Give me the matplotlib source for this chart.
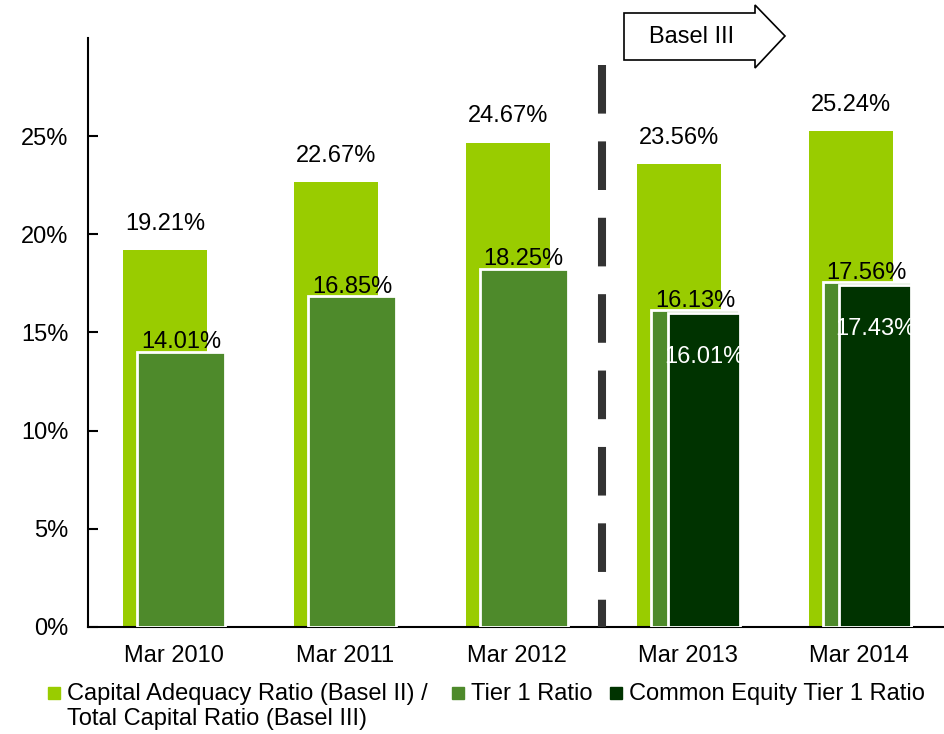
import numpy as np
import matplotlib.pyplot as plt
from matplotlib.patches import Polygon, Rectangle

plt.rcParams['font.family'] = ['Liberation Sans', 'DejaVu Sans']

# data
years = ['Mar 2010', 'Mar 2011', 'Mar 2012', 'Mar 2013', 'Mar 2014']
car = [19.21, 22.67, 24.67, 23.56, 25.24]
tier1 = [14.01, 16.85, 18.25, 16.13, 17.56]
cet1 = [np.nan, np.nan, np.nan, 16.01, 17.43]
yticks = [0, 5, 10, 15, 20, 25]

c_light = '#99CC00'
c_mid = '#4E8A2B'
c_dark = '#003300'
fs = 17

fig = plt.figure(figsize=(9.44, 7.34), dpi=100)
ax = fig.add_axes([0.0932, 0.1458, 0.908, 0.8025])

x = np.arange(len(years))
ax.bar(x - 0.051, car, width=0.49, color=c_light, zorder=2)
ax.bar(x + 0.042, tier1, width=0.513, color=c_mid, edgecolor='white', linewidth=2, zorder=3)
ax.bar(x + 0.093, cet1, width=0.42, color=c_dark, edgecolor='white', linewidth=2, zorder=4)

# value labels
for i in range(len(years)):
    ax.annotate(f'{car[i]:.2f}%', (x[i] - 0.051, car[i]), xytext=(0, 11),
                textcoords='offset points', ha='center', va='bottom', fontsize=fs, zorder=5)
    ax.annotate(f'{tier1[i]:.2f}%', (x[i] + 0.042, tier1[i]), xytext=(0, -1),
                textcoords='offset points', ha='center', va='bottom', fontsize=fs, zorder=5)
    if not np.isnan(cet1[i]):
        ax.annotate(f'{cet1[i]:.2f}%', (x[i] + 0.093, cet1[i]), xytext=(0, -32),
                    textcoords='offset points', ha='center', va='center', fontsize=fs,
                    color='white', zorder=5)

ax.set_xlim(-0.5, 4.5)
ax.set_ylim(0, 30)
ax.set_yticks(yticks)
ax.set_yticklabels([f'{t}%' for t in yticks], fontsize=fs)
ax.set_xticks(x)
ax.set_xticklabels(years, fontsize=fs)
ax.tick_params(axis='y', direction='in', length=7, width=1.5, pad=14)
ax.tick_params(axis='x', length=0, pad=13)
for s in ['top', 'right']:
    ax.spines[s].set_visible(False)
ax.spines['left'].set_linewidth(1.5)
ax.spines['bottom'].set_linewidth(1.5)

# Basel III separator
plt.rcParams['lines.scale_dashes'] = False
ax.plot([2.5, 2.5], [28.6, 0], color='#333333', linewidth=5.8, dashes=(35, 20),
        solid_capstyle='butt', zorder=6, clip_on=False)

# arrow box
W, H = 944, 734
pts = [(624, 13), (755, 13), (755, 5), (785, 36), (755, 68), (755, 60), (624, 60)]
fig.patches.append(Polygon([(px / W, 1 - py / H) for px, py in pts], closed=True,
                           facecolor='white', edgecolor='black', linewidth=1.2,
                           transform=fig.transFigure))
fig.text(692 / W, 1 - 37 / H, 'Basel III', fontsize=fs, ha='center', va='center')

# legend
items = [(48, c_light, 'Capital Adequacy Ratio (Basel II) /\nTotal Capital Ratio (Basel III)'),
         (452, c_mid, 'Tier 1 Ratio'),
         (610, c_dark, 'Common Equity Tier 1 Ratio')]
for lx, col, lab in items:
    fig.patches.append(Rectangle((lx / W, 1 - 699 / H), 12 / W, 12 / H, color=col,
                                 transform=fig.transFigure))
    fig.text((lx + 19) / W, 1 - 683 / H, lab, fontsize=fs, ha='left', va='top',
             linespacing=1.15)

fig.savefig('out.png', dpi=100)
